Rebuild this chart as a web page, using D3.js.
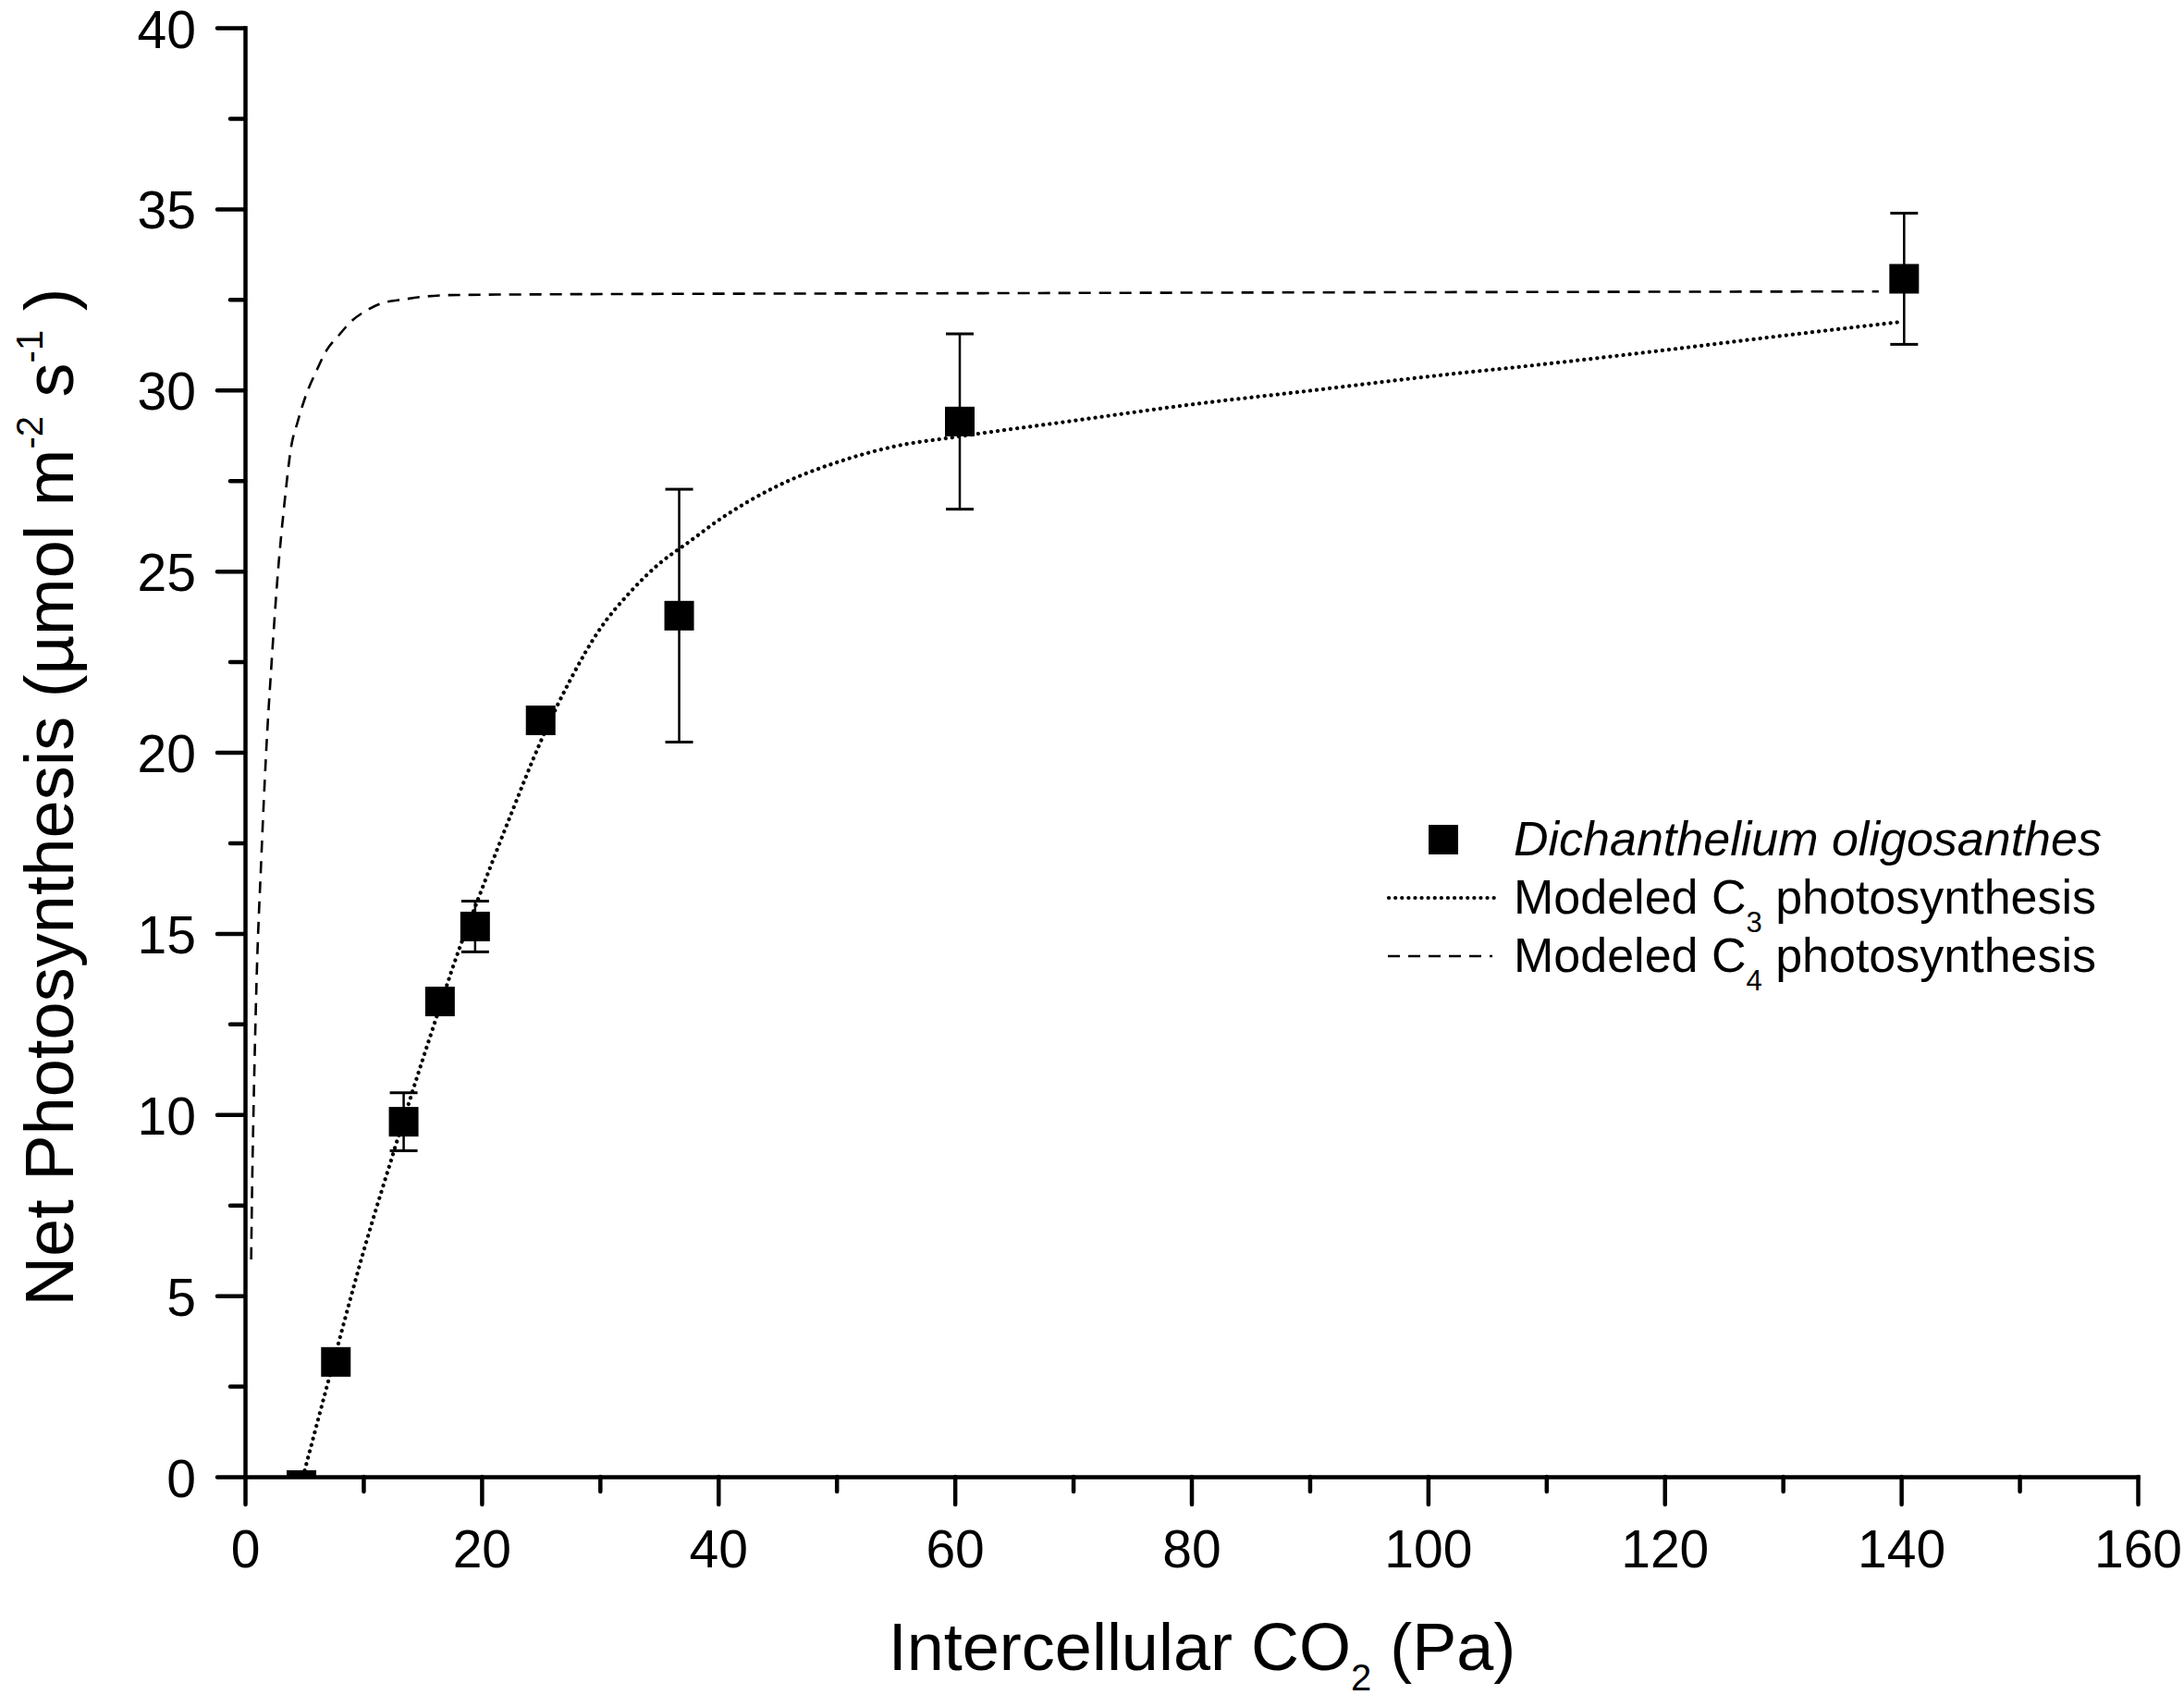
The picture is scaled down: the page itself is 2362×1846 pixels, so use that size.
<!DOCTYPE html>
<html>
<head>
<meta charset="utf-8">
<script src="https://cdn.jsdelivr.net/npm/d3@7"></script>
<style>
  html, body { margin: 0; padding: 0; background: #fff; }
  svg { display: block; }
  text { font-family: 'Liberation Sans', Arial, Helvetica, sans-serif; fill: #000; }
</style>
</head>
<body>
<script>
// ---------- data ----------
const ciObs  = [4.77, 7.68, 13.41, 16.48, 19.45, 24.99, 36.7, 60.42, 140.25];
const anObs  = [-0.23, 3.17, 9.80, 13.12, 15.19, 20.88, 23.77, 29.13, 33.07];
const anErr  = [0, 0, 0.8, 0.3, 0.7, 0.3, 3.49, 2.42, 1.81];

const c3Ci = [4.9, 7.5, 10, 12.5, 15, 16.5, 17.5, 20, 22.5, 25, 27.5, 30, 32.5, 35, 37.5, 40, 45, 50, 55, 60, 70, 80, 90, 100, 110, 120, 130, 140.2];
const c3An = [0, 3.2, 6.2, 8.9, 11.5, 13.0, 14.0, 16.2, 18.3, 20.3, 22.0, 23.4, 24.4, 25.2, 25.8, 26.4, 27.35, 28.0, 28.45, 28.7, 29.15, 29.6, 29.98, 30.37, 30.72, 31.1, 31.5, 31.89];

const c4Ci = [0.52, 0.6, 0.7, 0.96, 1.38, 1.77, 2.27, 2.79, 3.31, 3.91, 4.43, 5.2, 6.0, 6.9, 7.9, 9.0, 10.3, 11.6, 13.4, 15.2, 17.3, 25, 60, 100, 138.1];
const c4An = [6.0, 8.0, 9.8, 13.5, 17.1, 19.9, 22.6, 25.0, 26.8, 28.45, 29.1, 29.9, 30.5, 31.1, 31.5, 31.9, 32.2, 32.4, 32.5, 32.58, 32.62, 32.64, 32.67, 32.7, 32.72];

const xMajorTicks = [0, 20, 40, 60, 80, 100, 120, 140, 160];
const xMinorTicks = [10, 30, 50, 70, 90, 110, 130, 150];
const yMajorTicks = [0, 5, 10, 15, 20, 25, 30, 35, 40];
const yMinorTicks = [2.5, 7.5, 12.5, 17.5, 22.5, 27.5, 32.5, 37.5];

const legendLabels = ["Dichanthelium oligosanthes", "Modeled C", "Modeled C"];
const legendSubs = ["", "3", "4"];

// ---------- layout ----------
const W = 2362, H = 1846;
const mLeft = 265, mRight = 2312, mTop = 30, mBottom = 1597;

const svg = d3.select("body").append("svg").attr("width", W).attr("height", H);
svg.append("rect").attr("width", W).attr("height", H).attr("fill", "#fff");

const x = d3.scaleLinear().domain([0, 160]).range([mLeft, mRight]);
const y = d3.scaleLinear().domain([0, 40]).range([mBottom, mTop]);

// clip for markers (plot area)
svg.append("defs").append("clipPath").attr("id", "plotclip")
  .append("rect").attr("x", mLeft).attr("y", mTop - 40).attr("width", mRight - mLeft + 40).attr("height", mBottom - mTop + 40);

// ---------- curves ----------
const line = d3.line().x(d => x(d[0])).y(d => y(d[1])).curve(d3.curveMonotoneX);

svg.append("path")
  .datum(c4Ci.map((c, i) => [c, c4An[i]]))
  .attr("d", line)
  .attr("fill", "none").attr("stroke", "#000").attr("stroke-width", 2.6)
  .attr("stroke-dasharray", "13 9");

svg.append("path")
  .datum(c3Ci.map((c, i) => [c, c3An[i]]))
  .attr("d", line)
  .attr("fill", "none").attr("stroke", "#000").attr("stroke-width", 4.2)
  .attr("stroke-linecap", "round")
  .attr("stroke-dasharray", "0.1 7");

// ---------- error bars + markers ----------
const obs = ciObs.map((c, i) => ({c, a: anObs[i], e: anErr[i]}));
const eb = svg.append("g").attr("stroke", "#000");
obs.filter(d => d.e > 0).forEach(d => {
  eb.append("line").attr("x1", x(d.c)).attr("x2", x(d.c))
    .attr("y1", y(d.a + d.e)).attr("y2", y(d.a - d.e)).attr("stroke-width", 2.5);
  [d.a + d.e, d.a - d.e].forEach(v => {
    eb.append("line").attr("x1", x(d.c) - 15).attr("x2", x(d.c) + 15)
      .attr("y1", y(v)).attr("y2", y(v)).attr("stroke-width", 3);
  });
});

const sq = 32;
svg.append("g").attr("clip-path", "url(#plotclip)")
  .selectAll("rect").data(obs).join("rect")
  .attr("x", d => x(d.c) - sq / 2).attr("y", d => y(d.a) - sq / 2)
  .attr("width", sq).attr("height", sq).attr("fill", "#000");

// ---------- axes ----------
const axisStyle = g => {
  g.selectAll("path.domain").attr("stroke", "#000").attr("stroke-width", 4.5).attr("stroke-linecap", "square");
  g.selectAll(".tick line").attr("stroke", "#000").attr("stroke-width", 4.5).attr("stroke-linecap", "round");
  g.selectAll(".tick text").attr("font-family", "'Liberation Sans', Arial, sans-serif").attr("font-size", 57).attr("fill", "#000");
};

svg.append("g").attr("transform", `translate(0,${mBottom})`)
  .call(d3.axisBottom(x).tickValues(xMajorTicks).tickSize(30).tickSizeOuter(0).tickPadding(28).tickFormat(d3.format("d")))
  .call(axisStyle);
svg.append("g").attr("transform", `translate(0,${mBottom})`)
  .call(d3.axisBottom(x).tickValues(xMinorTicks).tickSize(16).tickFormat(""))
  .call(g => g.select("path.domain").remove())
  .call(axisStyle);

const gy = svg.append("g").attr("transform", `translate(${mLeft},0)`)
  .call(d3.axisLeft(y).tickValues(yMajorTicks).tickSize(30).tickSizeOuter(0).tickPadding(23).tickFormat(d3.format("d")))
  .call(axisStyle);
gy.selectAll(".tick text").attr("dy", "0.37em");
svg.append("g").attr("transform", `translate(${mLeft},0)`)
  .call(d3.axisLeft(y).tickValues(yMinorTicks).tickSize(16).tickFormat(""))
  .call(g => g.select("path.domain").remove())
  .call(axisStyle);

// ---------- axis titles ----------
const xt = svg.append("text").attr("x", 1300).attr("y", 1806)
  .attr("text-anchor", "middle").attr("font-size", 72);
xt.append("tspan").text("Intercellular CO");
xt.append("tspan").attr("font-size", 40).attr("dy", 22).text("2");
xt.append("tspan").attr("dy", -22).text(" (Pa)");

const yt = svg.append("text").attr("transform", "translate(79,862) rotate(-90)")
  .attr("text-anchor", "middle").attr("font-size", 74);
yt.append("tspan").text("Net Photosynthesis (\u00b5mol m");
yt.append("tspan").attr("font-size", 40).attr("dy", -33).text("-2");
yt.append("tspan").attr("dy", 33).text(" s");
yt.append("tspan").attr("font-size", 40).attr("dy", -33).text("-1");
yt.append("tspan").attr("dy", 33).text(" )");

// ---------- legend ----------
const legBase = [925, 988, 1051];
const lg = svg.append("g");
lg.append("rect").attr("x", 1561 - sq / 2).attr("y", legBase[0] - 17 - sq / 2)
  .attr("width", sq).attr("height", sq).attr("fill", "#000");
lg.append("line").attr("x1", 1502).attr("x2", 1621).attr("y1", legBase[1] - 17).attr("y2", legBase[1] - 17)
  .attr("stroke", "#000").attr("stroke-width", 4.2).attr("stroke-linecap", "round").attr("stroke-dasharray", "0.1 7");
lg.append("line").attr("x1", 1501).attr("x2", 1614).attr("y1", legBase[2] - 17).attr("y2", legBase[2] - 17)
  .attr("stroke", "#000").attr("stroke-width", 2.6).attr("stroke-dasharray", "13 9");

legendLabels.forEach((lab, i) => {
  const t = lg.append("text").attr("x", 1637).attr("y", legBase[i]).attr("font-size", 52);
  if (i === 0) {
    t.attr("font-style", "italic").text(lab);
  } else {
    t.append("tspan").text(lab);
    t.append("tspan").attr("font-size", 31).attr("dy", 20).text(legendSubs[i]);
    t.append("tspan").attr("dy", -20).text(" photosynthesis");
  }
});
</script>
</body>
</html>
